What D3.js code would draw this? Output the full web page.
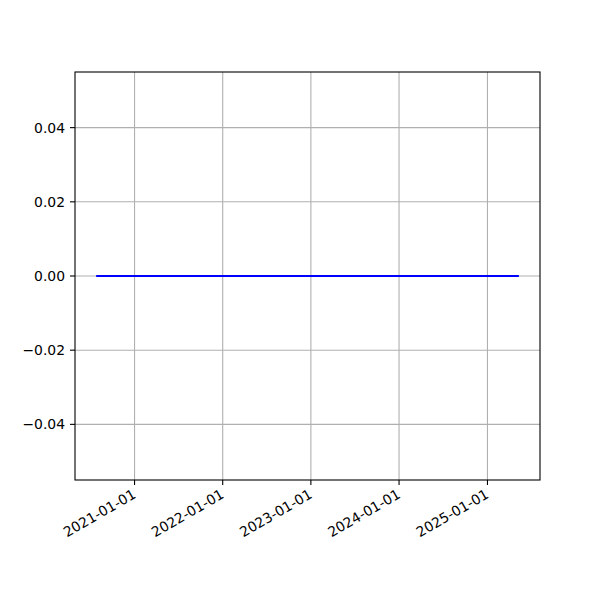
<!DOCTYPE html>
<html><head><meta charset="utf-8">
<script src="https://cdn.jsdelivr.net/npm/d3@7"></script>
<style>body{margin:0;background:#fff}text{font-family:"DejaVu Sans",sans-serif}</style>
</head><body><svg id="c" width="600" height="600"></svg>
<script>
const dates = ["2020-07-26","2021-01-01","2022-01-01","2023-01-01","2024-01-01","2025-01-01","2025-05-11"];
const values = [0,0,0,0,0,0,0];
const xTickLabels = ["2021-01-01","2022-01-01","2023-01-01","2024-01-01","2025-01-01"];
const yTicks = [-0.04,-0.02,0,0.02,0.04];

const parse = d3.utcParse("%Y-%m-%d");
const data = dates.map((d,i)=>({x:parse(d), y:values[i]}));
const L=75,R=540,T=72,B=480;
const svg = d3.select("#c");
const ext = d3.extent(data,d=>d.x);
const span = ext[1]-ext[0];
const x = d3.scaleUtc().domain([new Date(+ext[0]-span*0.05), new Date(+ext[1]+span*0.05)]).range([L,R]);
const y = d3.scaleLinear().domain([-0.055,0.055]).range([B,T]);
const xt = xTickLabels.map(parse);

// grid
svg.append("g").selectAll("line").data(xt).join("line")
  .attr("x1",d=>x(d)).attr("x2",d=>x(d)).attr("y1",T).attr("y2",B)
  .attr("stroke","#b0b0b0").attr("stroke-width",1.1);
svg.append("g").selectAll("line").data(yTicks).join("line")
  .attr("x1",L).attr("x2",R).attr("y1",d=>y(d)).attr("y2",d=>y(d))
  .attr("stroke","#b0b0b0").attr("stroke-width",1.1);

// line
svg.append("path").datum(data)
  .attr("d", d3.line().x(d=>x(d.x)).y(d=>y(d.y)))
  .attr("fill","none").attr("stroke","#0000ff").attr("stroke-width",2);

// frame
svg.append("rect").attr("x",L).attr("y",T).attr("width",R-L).attr("height",B-T)
  .attr("fill","none").attr("stroke","#000").attr("stroke-width",1.1);

// x ticks
const gx = svg.append("g");
gx.selectAll("line").data(xt).join("line")
  .attr("x1",d=>x(d)).attr("x2",d=>x(d)).attr("y1",B).attr("y2",B+5)
  .attr("stroke","#000").attr("stroke-width",1.1);
gx.selectAll("text").data(xt).join("text")
  .attr("transform",d=>`translate(${x(d)-3},${488}) rotate(-30)`)
  .attr("text-anchor","end").attr("dy","0.76em")
  .attr("font-size","13.9px").attr("fill","#000")
  .text((d,i)=>xTickLabels[i]);

// y ticks
const gy = svg.append("g");
const fmt = v => (v<0?"\u2212":"") + Math.abs(v).toFixed(2);
gy.selectAll("line").data(yTicks).join("line")
  .attr("x1",L-5).attr("x2",L).attr("y1",d=>y(d)).attr("y2",d=>y(d))
  .attr("stroke","#000").attr("stroke-width",1.1);
gy.selectAll("text").data(yTicks).join("text")
  .attr("x",L-10).attr("y",d=>y(d)).attr("dy","0.36em")
  .attr("text-anchor","end").attr("font-size","13.9px").attr("fill","#000")
  .text(d=>fmt(d));
</script></body></html>
